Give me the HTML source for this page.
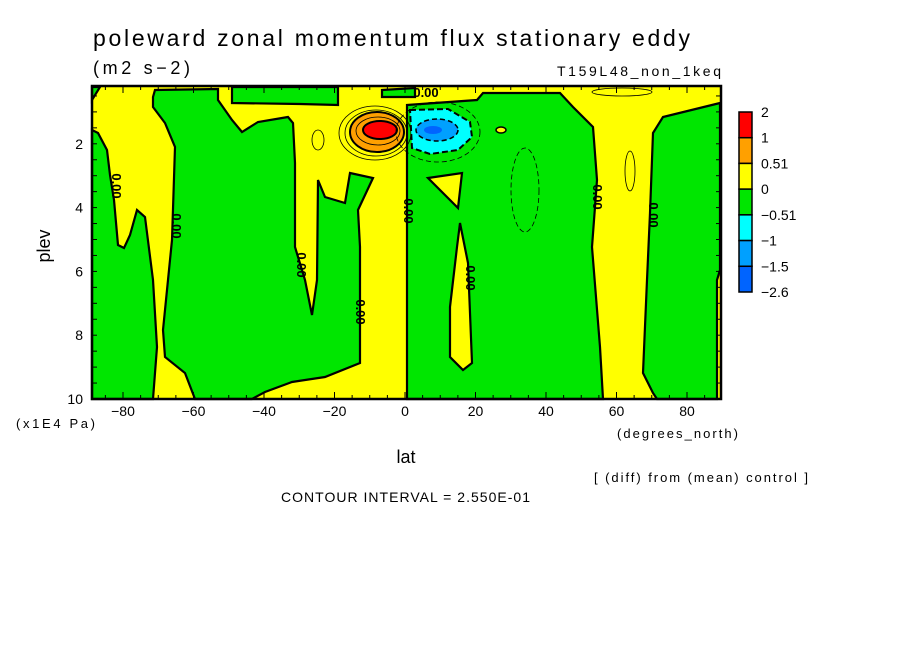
<!DOCTYPE html>
<html><head><meta charset="utf-8"><style>
body{margin:0;background:#fff;}
svg text{font-family:"Liberation Sans",sans-serif;fill:#000;}
</style></head><body>
<svg id="chart" width="904" height="654" viewBox="0 0 904 654" xmlns="http://www.w3.org/2000/svg">
<text x="93" y="46" font-size="23" textLength="597" lengthAdjust="spacing">poleward zonal momentum flux stationary eddy</text>
<text x="93" y="74" font-size="18" textLength="97" lengthAdjust="spacing">(m2 s−2)</text>
<text x="557" y="76" font-size="14" textLength="164" lengthAdjust="spacing">T159L48_non_1keq</text>
<g id="plot"></g>
<g id="cbar"></g>
<text x="50" y="246" font-size="18" transform="rotate(-90 50 246)" text-anchor="middle">plev</text>
<text x="16" y="428" font-size="13" textLength="79" lengthAdjust="spacing">(x1E4 Pa)</text>
<text x="406" y="463" font-size="18" text-anchor="middle">lat</text>
<text x="617" y="438" font-size="13" textLength="121" lengthAdjust="spacing">(degrees_north)</text>
<text x="594" y="482" font-size="13" textLength="214" lengthAdjust="spacing">[ (diff) from (mean) control ]</text>
<text x="281" y="502" font-size="14" textLength="249" lengthAdjust="spacing">CONTOUR INTERVAL = 2.550E-01</text>
</svg>
<script>
const xTicks=[-80,-60,-40,-20,0,20,40,60,80];
const yTicks=[2,4,6,8,10];
const cbarLabels=["2","1","0.51","0","−0.51","−1","−1.5","−2.6"];
const cbarColors=["#ff0000","#ffa000","#ffff00","#00e600","#00ffff","#00a0ff","#0064ff"];
const X=lat=>405+lat*3.525;
const Y=p=>80+p*31.9;
const NS="http://www.w3.org/2000/svg";
const plot=document.getElementById('plot');
function el(tag,attrs,parent){const e=document.createElementNS(NS,tag);for(const k in attrs)e.setAttribute(k,attrs[k]);(parent||plot).appendChild(e);return e;}
const L=92,R=721,T=86,B=399;
const bg=el('rect',{x:L,y:T,width:R-L,height:B-T,fill:'#ffff00'});


const greens=[
 [[92,130],[98,133],[107,150],[110,175],[114,200],[118,245],[124,248],[130,235],[137,210],[145,217],[153,280],[157,347],[153,399],[92,399]],
 [[153,97],[155,90],[218,89],[218,100],[232,120],[242,132],[258,122],[288,117],[293,123],[295,163],[295,247],[305,280],[312,315],[317,280],[318,180],[325,197],[345,203],[350,173],[373,178],[358,210],[360,247],[360,363],[325,377],[292,382],[265,392],[252,399],[195,399],[185,373],[165,357],[163,330],[172,240],[175,147],[165,123],[153,107]],
 [[232,87],[338,87],[338,105],[300,104],[232,103]],
 [[382,90],[415,88],[415,97],[382,97]],
 [[92,87],[100,87],[92,100]],
 [[407,105],[477,100],[483,93],[560,93],[573,107],[593,127],[597,180],[592,247],[600,347],[603,399],[407,399]],
 [[720,103],[663,117],[653,133],[650,213],[647,280],[643,373],[653,393],[657,399],[717,399],[717,280],[720,270]]
];
greens.forEach((g,i)=>{const p=el('polygon',{points:g.map(q=>q.join(',')).join(' '),fill:'#00e600',stroke:'#000','stroke-width':2.2});

});
const holes=[
 [[428,178],[462,173],[458,208]],
 [[460,223],[468,263],[472,363],[463,370],[450,357],[450,307],[457,247]]
];
holes.forEach((g,i)=>{const p=el('polygon',{points:g.map(q=>q.join(',')).join(' '),fill:'#ffff00',stroke:'#000','stroke-width':2.2});

});
el('ellipse',{cx:375,cy:133,rx:36,ry:27,fill:'none',stroke:'#000','stroke-width':0.8});
el('ellipse',{cx:376,cy:133,rx:31,ry:23,fill:'none',stroke:'#000','stroke-width':0.8});
const ob=el('ellipse',{cx:377,cy:132,rx:27,ry:20,fill:'#ffa000',stroke:'#000','stroke-width':2});


el('ellipse',{cx:378,cy:131,rx:22,ry:14,fill:'none',stroke:'#000','stroke-width':0.8});
const rb=el('ellipse',{cx:380,cy:130,rx:17,ry:9,fill:'#ff0000',stroke:'#000','stroke-width':2});


el('ellipse',{cx:438,cy:132,rx:42,ry:30,fill:'none',stroke:'#000','stroke-width':0.8,'stroke-dasharray':'5,3'});
const cy1=el('polygon',{points:'410,110 448,109 470,122 472,137 458,150 430,154 412,148',fill:'#00ffff',stroke:'#000','stroke-width':2,'stroke-dasharray':'6,3'});


const mb=el('ellipse',{cx:437,cy:130,rx:21,ry:11,fill:'#00a0ff',stroke:'#000','stroke-width':1.5,'stroke-dasharray':'5,3'});


const db=el('ellipse',{cx:433,cy:130,rx:9,ry:4,fill:'#0064ff'});


el('ellipse',{cx:525,cy:190,rx:14,ry:42,fill:'none',stroke:'#000','stroke-width':0.8,'stroke-dasharray':'5,3'});
el('ellipse',{cx:630,cy:171,rx:5,ry:20,fill:'none',stroke:'#000','stroke-width':0.8});
el('ellipse',{cx:318,cy:140,rx:6,ry:10,fill:'none',stroke:'#000','stroke-width':0.8});
el('ellipse',{cx:622,cy:92,rx:30,ry:4,fill:'none',stroke:'#000','stroke-width':0.8});
el('ellipse',{cx:501,cy:130,rx:5,ry:3,fill:'#ffff00',stroke:'#000','stroke-width':1.5});
const lbls=[[113,186],[173,226],[298,265],[357,312],[405,211],[467,278],[594,197],[650,215]];
lbls.forEach((q,i)=>{const t=el('text',{x:q[0],y:q[1]+1,'font-size':13,'font-weight':'bold','text-anchor':'middle',transform:`rotate(90 ${q[0]} ${q[1]})`});t.textContent='0.00';

});
const tl=el('text',{x:426,y:97,'font-size':13,'font-weight':'bold','text-anchor':'middle'});tl.textContent='0.00';


el('rect',{x:L,y:T,width:R-L,height:B-T,fill:'none',stroke:'#000','stroke-width':2.5});
for(let lat=-90;lat<=90;lat+=5){const x=X(lat);if(x<L||x>R)continue;const len=lat%20===0?7:4;el('line',{x1:x,y1:B,x2:x,y2:B-len,stroke:'#000','stroke-width':1});el('line',{x1:x,y1:T,x2:x,y2:T+len,stroke:'#000','stroke-width':1});}
for(let p=0.5;p<=10;p+=0.5){const y=Y(p);if(y<T)continue;el('line',{x1:L,y1:y,x2:L+5,y2:y,stroke:'#000','stroke-width':1});el('line',{x1:R,y1:y,x2:R-5,y2:y,stroke:'#000','stroke-width':1});}
xTicks.forEach(v=>{const t=el('text',{x:X(v),y:416,'font-size':14,'text-anchor':'middle'});t.textContent=v<0?'−'+(-v):String(v);

});
yTicks.forEach(v=>{const t=el('text',{x:83,y:Y(v)+5,'font-size':14,'text-anchor':'end'});t.textContent=String(v);

});
const cb=document.getElementById('cbar');
const bh=(292-112)/cbarColors.length;
cbarColors.forEach((c,i)=>{const r=el('rect',{x:739,y:112+i*bh,width:13,height:bh,fill:c,stroke:'#000','stroke-width':1.5},cb);

});
cbarLabels.forEach((s,i)=>{const t=el('text',{x:761,y:112+i*bh+5,'font-size':14},cb);t.textContent=s;

});
</script>
</body></html>
